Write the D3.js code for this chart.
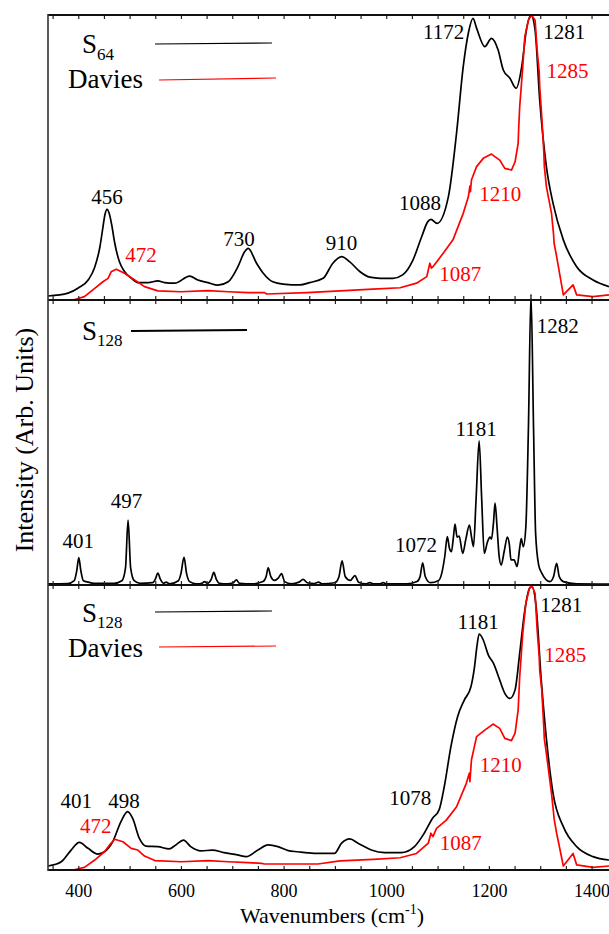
<!DOCTYPE html>
<html>
<head>
<meta charset="utf-8">
<script src="https://cdnjs.cloudflare.com/ajax/libs/d3/7.8.5/d3.min.js"></script>
<style>
  body { margin: 0; background: #fff; }
  svg { display: block; }
</style>
</head>
<body>
<script>
(function(){
'use strict';

// ---- data (wavenumber, relative intensity 0..1 of panel height) ----
var xMajor = [400, 600, 800, 1000, 1200, 1400];

// top panel, S64
var s64 = [[341,.014],[380,.024],[400,.042],[420,.072],[432,.115],[442,.185],[448,.255],[452,.300],
  [456,.318],[460,.305],[465,.265],[471,.200],[480,.135],[490,.100],[503,.077],[516,.061],[536,.061],
  [555,.067],[568,.061],[588,.059],[617,.084],[633,.070],[653,.061],[672,.052],[692,.064],[711,.117],
  [724,.169],[731,.181],[747,.130],[760,.095],[779,.064],[799,.056],[832,.053],[851,.061],[877,.076],
  [896,.129],[913,.152],[929,.134],[949,.099],[968,.080],[988,.076],[1013,.076],[1032,.088],[1052,.140],
  [1069,.222],[1081,.275],[1087,.283],[1099,.269],[1121,.362],[1137,.586],[1150,.819],[1160,.937],
  [1169,.988],[1176,.954],[1192,.889],[1205,.918],[1218,.877],[1228,.807],[1241,.778],[1253,.743],
  [1264,.819],[1273,.947],[1282,1.0],[1290,.947],[1299,.702],[1312,.468],[1325,.339],[1345,.211],
  [1371,.117],[1403,.070],[1434,.047]];

// top panel, Davies (experiment)
var daviesTop = [[390,0],[412,.012],[432,.041],[448,.064],[458,.076],[464,.099],[474,.108],[490,.094],
  [510,.070],[529,.047],[555,.032],[600,.029],[653,.033],[692,.029],[731,.026],[763,.026],[767,.021],
  [845,.026],[910,.032],[974,.038],[1027,.043],[1059,.059],[1079,.082],[1085,.129],[1088,.112],
  [1091,.117],[1111,.164],[1130,.211],[1150,.304],[1160,.362],[1163,.40],[1164,.38],[1166,.421],
  [1176,.468],[1189,.497],[1205,.512],[1221,.491],[1231,.462],[1244,.456],[1251,.485],[1257,.550],
  [1258,.60],[1260,.678],[1266,.819],[1270,.924],[1277,.982],[1283,1.0],[1290,.982],[1294,.877],
  [1298,.80],[1299,.75],[1303,.643],[1307,.52],[1308,.47],[1312,.398],[1322,.304],[1326,.23],
  [1327,.20],[1332,.152],[1345,.018],[1364,.053],[1371,.018],[1403,.012],[1434,.018]];

// middle panel, S128 stick-like spectrum
var s128 = [[341,.004],[380,.005],[392,.015],[397,.05],[401,.096],[405,.05],[410,.015],[420,.010],
  [430,.006],[470,.006],[485,.015],[492,.06],[497,.228],[502,.06],[509,.015],[520,.006],[545,.008],
  [550,.02],[555,.042],[560,.02],[566,.006],[571,.010],[578,.004],[595,.015],[600,.04],[606,.097],
  [611,.04],[617,.012],[630,.004],[641,.006],[646,.012],[651,.006],[659,.02],[664,.044],[669,.02],
  [675,.006],[690,.004],[702,.008],[708,.018],[714,.006],[740,.004],[760,.012],[766,.03],[770,.06],
  [775,.03],[782,.016],[790,.025],[796,.04],[802,.012],[815,.004],[830,.01],[838,.02],[846,.008],
  [860,.005],[868,.01],[875,.004],[900,.008],[908,.03],[914,.085],[920,.03],[930,.016],[939,.033],
  [946,.01],[960,.004],[968,.008],[975,.004],[988,.004],[994,.008],[1000,.004],[1040,.004],
  [1060,.012],[1066,.03],[1071,.078],[1076,.03],[1086,.008],[1102,.016],[1108,.04],[1114,.10],
  [1119,.17],[1123,.13],[1127,.117],[1131,.17],[1134,.214],[1138,.168],[1142,.172],[1149,.111],
  [1155,.16],[1162,.21],[1166,.17],[1170,.135],[1175,.30],[1181,.506],[1186,.30],[1191,.111],
  [1197,.15],[1202,.168],[1205,.161],[1209,.22],[1212,.287],[1216,.20],[1220,.10],[1224,.07],
  [1230,.12],[1236,.168],[1240,.14],[1243,.088],[1249,.088],[1255,.065],[1260,.13],[1263,.163],
  [1267,.135],[1272,.205],[1277,.55],[1282,1.02],[1287,.55],[1291,.182],[1297,.07],[1303,.042],
  [1319,.012],[1326,.03],[1332,.076],[1337,.03],[1345,.012],[1371,.004],[1434,.003]];

// bottom panel, S128 broadened
var s128b = [[341,.014],[367,.029],[386,.070],[402,.097],[419,.076],[438,.056],[451,.064],[467,.099],
  [483,.169],[496,.205],[506,.181],[519,.111],[532,.084],[555,.082],[577,.074],[590,.088],[605,.105],
  [619,.082],[639,.067],[661,.070],[684,.061],[710,.053],[727,.047],[750,.070],[770,.088],[789,.082],
  [809,.068],[828,.064],[848,.060],[867,.058],[899,.058],[913,.094],[929,.109],[945,.094],[971,.070],
  [997,.061],[1029,.061],[1055,.082],[1074,.129],[1090,.181],[1103,.211],[1113,.292],[1126,.433],
  [1139,.538],[1152,.596],[1165,.643],[1172,.713],[1177,.789],[1181,.828],[1189,.807],[1199,.754],
  [1209,.725],[1221,.667],[1231,.620],[1241,.602],[1251,.632],[1260,.760],[1270,.912],[1279,.988],
  [1284,.994],[1292,.924],[1302,.667],[1315,.409],[1325,.269],[1345,.152],[1371,.082],[1403,.047],
  [1434,.035]];

// bottom panel, Davies (experiment)
var daviesBot = [[390,0],[412,.009],[432,.035],[451,.064],[461,.088],[471,.108],[487,.099],[503,.076],
  [516,.070],[529,.049],[549,.033],[601,.029],[653,.033],[692,.029],[731,.026],[757,.023],[763,.021],
  [867,.021],[910,.032],[975,.037],[1027,.043],[1059,.058],[1082,.094],[1087,.129],[1091,.117],
  [1098,.146],[1117,.175],[1137,.222],[1156,.304],[1162,.34],[1163,.31],[1166,.386],[1176,.468],
  [1192,.491],[1208,.512],[1221,.497],[1231,.462],[1244,.454],[1251,.480],[1257,.561],[1258,.60],
  [1260,.678],[1266,.830],[1272,.936],[1279,.988],[1283,1.0],[1290,.971],[1294,.842],[1298,.75],
  [1299,.70],[1303,.632],[1307,.50],[1308,.46],[1312,.409],[1322,.269],[1326,.20],[1327,.18],
  [1332,.129],[1345,.014],[1364,.058],[1371,.018],[1403,.009],[1434,.014]];

// peak labels: text, wavenumber (centre), intensity (baseline), colour
var labelsTop = [['456',456,.337,'k'],['472',522,.133,'r'],['730',713,.189,'k'],['910',913,.175,'k'],
  ['1088',1066,.316,'k'],['1172',1112,.916,'k'],['1281',1347,.916,'k'],['1285',1353,.779,'r'],
  ['1210',1222,.347,'r'],['1087',1144,.067,'r']];
var labelsMid = [['401',400,.130,'k'],['497',494,.270,'k'],['1072',1058,.116,'k'],
  ['1181',1175,.523,'k'],['1282',1334,.884,'k']];
var labelsBot = [['401',396,.218,'k'],['498',489,.218,'k'],['472',434,.130,'r'],['1078',1047,.228,'k'],
  ['1181',1179,.846,'k'],['1281',1341,.905,'k'],['1285',1349,.730,'r'],['1210',1223,.344,'r'],
  ['1087',1145,.070,'r']];

// ---- layout ----
var width = 609, height = 934;
var left = 48, right = 609;
var panelEdges = [15, 300, 585, 870];
var red = '#ff0000';
var serif = '"Liberation Serif", "DejaVu Serif", "Times New Roman", serif';

var svg = d3.select('body').append('svg')
  .attr('width', width)
  .attr('height', height)
  .style('font-family', serif);

var x = d3.scaleLinear().domain([341, 1434]).range([left, right]);

svg.append('defs').append('clipPath').attr('id', 'plotclip')
  .append('rect').attr('x', left).attr('y', panelEdges[0])
  .attr('width', right - left).attr('height', panelEdges[3] - panelEdges[0]);

function drawPanel(i, series, labels, legend){
  var top = panelEdges[i], bottom = panelEdges[i + 1];
  var y = d3.scaleLinear().domain([0, 1]).range([bottom, top]);
  var g = svg.append('g');

  series.forEach(function(s){
    var line = d3.line()
      .x(function(d){ return x(d[0]); })
      .y(function(d){ return y(d[1]); })
      .curve(s.curve);
    g.append('path')
      .datum(s.data)
      .attr('clip-path', 'url(#plotclip)')
      .attr('fill', 'none')
      .attr('stroke', s.color)
      .attr('stroke-width', s.w)
      .attr('stroke-linejoin', 'round')
      .attr('d', line);
  });

  g.selectAll('text.peak')
    .data(labels)
    .enter()
    .append('text')
    .attr('class', 'peak')
    .attr('x', function(d){ return x(d[1]); })
    .attr('y', function(d){ return y(d[2]); })
    .attr('text-anchor', 'middle')
    .attr('font-family', serif)
    .attr('font-size', 21)
    .attr('fill', function(d){ return d[3] === 'r' ? red : '#000'; })
    .text(function(d){ return d[0]; });

  // legend
  legend.forEach(function(l){
    var t = g.append('text')
      .attr('x', l.tx)
      .attr('y', top + l.ty)
      .attr('font-family', serif)
      .attr('font-size', 27)
      .text(l.name);
    if(l.sub){
      t.append('tspan').attr('font-size', 17).attr('dy', l.subDy).text(l.sub);
    }
    g.append('line')
      .attr('x1', l.x1).attr('y1', top + l.y1)
      .attr('x2', l.x2).attr('y2', top + l.y2)
      .attr('stroke', l.color)
      .attr('stroke-width', l.w);
  });

  // inward ticks on top and bottom edge
  var minor = d3.range(350, 1450, 50);
  var topAxis = g.append('g').attr('transform', 'translate(0,' + top + ')')
    .call(d3.axisTop(x).tickValues(minor).tickSize(-4).tickFormat(''));
  var botAxis = g.append('g').attr('transform', 'translate(0,' + bottom + ')')
    .call(d3.axisBottom(x).tickValues(minor).tickSize(-4).tickFormat(''));
  [topAxis, botAxis].forEach(function(a){
    a.select('.domain').remove();
    a.selectAll('line').attr('stroke', '#222').attr('stroke-width', 1.2);
  });
}

drawPanel(0,
  [{data: s64, color: '#000', w: 1.7, curve: d3.curveMonotoneX},
   {data: daviesTop, color: red, w: 1.7, curve: d3.curveLinear}],
  labelsTop,
  [{name: 'S', sub: '64', subDy: 7, tx: 82, ty: 38, x1: 155, y1: 29, x2: 272, y2: 28, color: '#000', w: 1.1},
   {name: 'Davies', tx: 68, ty: 73, x1: 159, y1: 65, x2: 276, y2: 63, color: red, w: 1.1}]);

drawPanel(1,
  [{data: s128, color: '#000', w: 1.7, curve: d3.curveMonotoneX}],
  labelsMid,
  [{name: 'S', sub: '128', subDy: 6, tx: 82, ty: 40, x1: 131, y1: 31, x2: 247, y2: 30, color: '#000', w: 2}]);

drawPanel(2,
  [{data: s128b, color: '#000', w: 1.7, curve: d3.curveMonotoneX},
   {data: daviesBot, color: red, w: 1.7, curve: d3.curveLinear}],
  labelsBot,
  [{name: 'S', sub: '128', subDy: 6, tx: 82, ty: 37, x1: 155, y1: 27, x2: 272, y2: 26, color: '#000', w: 1.1},
   {name: 'Davies', tx: 68, ty: 72, x1: 159, y1: 62, x2: 276, y2: 61, color: red, w: 1.1}]);

// frame lines
[15, 300, 585, 870].forEach(function(yy){
  svg.append('line').attr('x1', left).attr('x2', right + 2)
    .attr('y1', yy).attr('y2', yy)
    .attr('stroke', '#111').attr('stroke-width', 2);
});
svg.append('line').attr('x1', left).attr('x2', left)
  .attr('y1', 14).attr('y2', 871)
  .attr('stroke', '#333').attr('stroke-width', 1.6);

// bottom tick labels
var xAxis = svg.append('g').attr('transform', 'translate(0,870)')
  .call(d3.axisBottom(x).tickValues(xMajor).tickSize(0).tickPadding(0).tickFormat(d3.format('d')));
xAxis.attr('font-family', serif);
xAxis.select('.domain').remove();
xAxis.selectAll('text')
  .attr('dy', null)
  .attr('y', 27)
  .attr('font-size', 18)
  .attr('font-family', serif)
  .attr('fill', '#000');

// axis titles
var xt = svg.append('text')
  .attr('x', 332).attr('y', 923)
  .attr('text-anchor', 'middle')
  .attr('font-family', serif)
  .attr('font-size', 22)
  .text('Wavenumbers (cm');
xt.append('tspan').attr('font-size', 14).attr('dy', -9).text('-1');
xt.append('tspan').attr('dy', 9).text(')');

svg.append('text')
  .attr('transform', 'translate(33,440) rotate(-90)')
  .attr('text-anchor', 'middle')
  .attr('font-family', serif)
  .attr('font-size', 26)
  .text('Intensity (Arb. Units)');

})();
</script>
</body>
</html>
